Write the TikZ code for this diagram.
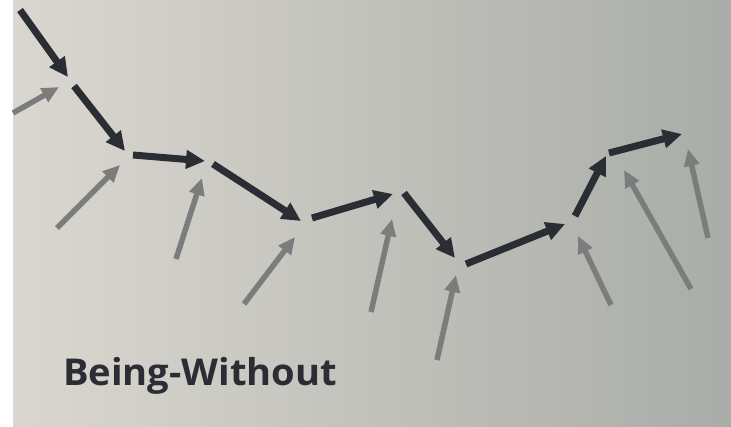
\documentclass[tikz,border=0pt]{standalone}
\usepackage{fontspec}
\setmainfont{Open Sans}
\usetikzlibrary{arrows.meta}
\definecolor{inkdark}{HTML}{2A2D33}
\definecolor{inkgray}{HTML}{7A7D7C}
\definecolor{paperL}{HTML}{DAD7D0}
\definecolor{paperM}{HTML}{C8C7C1}
\definecolor{paperR}{HTML}{A9ACA7}
\tikzset{
  darkarrow/.style={draw=inkdark, line width=7pt, -{Triangle[length=19pt,width=18pt]}},
  grayarrow/.style={draw=inkgray, line width=5.5pt, -{Triangle[length=17pt,width=15pt]}},
  titletext/.style={text=inkdark, font=\fontsize{37}{40}\selectfont\bfseries, inner sep=0pt, anchor=base west}
}
\begin{document}
\begin{tikzpicture}[x=1pt,y=-1pt]
  \useasboundingbox (0,0) rectangle (731,426);
  \fill[white] (0,0) rectangle (731,426);
  \shade[left color=paperL, middle color=paperM, right color=paperR] (13,0) rectangle (731,426);
  % black chain coordinates
  \coordinate (b1s) at (20,10);   \coordinate (b1e) at (68,77);
  \coordinate (b2s) at (74,86);   \coordinate (b2e) at (125,151);
  \coordinate (b3s) at (133,155); \coordinate (b3e) at (205,161);
  \coordinate (b4s) at (213,164); \coordinate (b4e) at (301,221);
  \coordinate (b5s) at (312,218); \coordinate (b5e) at (393,194);
  \coordinate (b6s) at (404,193); \coordinate (b6e) at (455,258);
  \coordinate (b7s) at (466,264); \coordinate (b7e) at (565,224);
  \coordinate (b8s) at (575,216); \coordinate (b8e) at (606,156);
  \coordinate (b9s) at (609,153); \coordinate (b9e) at (682,134);
  % gray arrow coordinates
  \coordinate (g1s) at (13,113);  \coordinate (g1e) at (59,87);
  \coordinate (g2s) at (57,228);  \coordinate (g2e) at (120,165);
  \coordinate (g3s) at (176,259); \coordinate (g3e) at (202,178);
  \coordinate (g4s) at (244,304); \coordinate (g4e) at (295,237);
  \coordinate (g5s) at (371,312); \coordinate (g5e) at (392,219);
  \coordinate (g6s) at (437,360); \coordinate (g6e) at (456,275);
  \coordinate (g7s) at (611,305); \coordinate (g7e) at (578,236);
  \coordinate (g8s) at (691,289); \coordinate (g8e) at (624,170);
  \coordinate (g9s) at (708,238); \coordinate (g9e) at (688,149);
  \foreach \i in {1,...,9} {
    \draw[grayarrow] (g\i s) -- (g\i e);
  }
  \foreach \i in {1,...,9} {
    \draw[darkarrow] (b\i s) -- (b\i e);
  }
  \node[titletext] (title) at (63,385) {\scalebox{1.03}[1]{Being-Without}};
\end{tikzpicture}
\end{document}
